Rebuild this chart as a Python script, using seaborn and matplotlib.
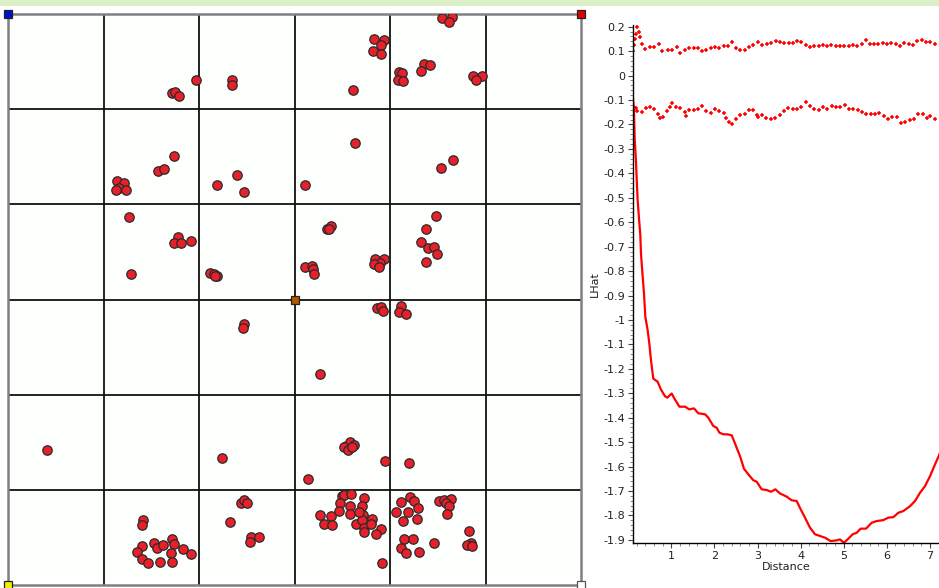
import numpy as np
import pandas as pd
import matplotlib
matplotlib.use("Agg")
import matplotlib.pyplot as plt
import matplotlib.ticker as mticker
from matplotlib.patches import Rectangle
import seaborn as sns

# ---------------- data: point map (grid units, 6 x 6 cells) ----------------
pts_x = [4.548, 4.647, 4.623,
         3.833, 3.936, 3.904, 3.825, 3.904,
         4.090, 4.125, 4.082, 4.137,
         4.358, 4.414, 4.323,
         4.868, 4.959, 4.903,
         3.612, 2.349, 2.349, 1.966, 1.717, 1.749, 1.792,
         3.636, 4.659, 4.536, 1.733, 1.567, 1.634,
         1.137, 1.212, 1.165, 1.236, 1.129,
         2.191, 2.400, 2.467, 3.115,
         1.267, 1.780, 1.737, 1.812, 1.915, 1.287,
         2.116, 2.159, 2.187, 2.167,
         3.336, 3.387, 3.364,
         3.111, 3.186, 3.190, 3.202,
         3.845, 3.936, 3.900, 3.829, 3.889,
         4.477, 4.378, 4.323, 4.402, 4.457, 4.489, 4.378,
         2.467, 2.460, 3.861, 3.904, 3.924, 4.114, 4.090, 4.169, 3.265,
         0.411, 2.246, 3.146,
         3.541, 3.581, 3.624, 3.522, 3.561, 3.600,
         3.944, 4.201,
         1.409, 1.398, 1.402, 1.346, 1.398, 1.469, 1.524, 1.559, 1.622,
         1.713, 1.733, 1.702, 1.591, 1.713, 1.832, 1.915,
         2.436, 2.475, 2.499, 2.325, 2.546, 2.535, 2.633,
         3.494, 3.514, 3.589, 3.723, 3.478, 3.581, 3.711, 3.466, 3.577, 3.715,
         3.269, 3.380, 3.312, 3.391, 3.644, 3.707, 3.731, 3.723, 3.810, 3.798,
         3.905, 3.853, 3.913, 3.679,
         4.212, 4.114, 4.256, 4.291, 4.066, 4.188, 4.133, 4.287, 4.145, 4.236,
         4.114, 4.165, 4.299, 4.457,
         4.508, 4.568, 4.635, 4.587, 4.623, 4.599,
         4.824, 4.844, 4.805, 4.860]
pts_y = [5.962, 5.965, 5.913,
         5.738, 5.727, 5.671, 5.615, 5.580,
         5.395, 5.385, 5.308, 5.294,
         5.476, 5.462, 5.406,
         5.350, 5.350, 5.304,
         5.203, 5.308, 5.259, 5.304, 5.171, 5.185, 5.143,
         4.647, 4.469, 4.381, 4.503, 4.346, 4.367,
         4.248, 4.220, 4.171, 4.147, 4.147,
         4.206, 4.304, 4.126, 4.206,
         3.868, 3.652, 3.589, 3.589, 3.617, 3.268,
         3.282, 3.272, 3.247, 3.247,
         3.746, 3.777, 3.742,
         3.338, 3.355, 3.324, 3.268,
         3.429, 3.429, 3.387, 3.373, 3.345,
         3.878, 3.746, 3.603, 3.537, 3.551, 3.477, 3.390,
         2.739, 2.704, 2.906, 2.920, 2.878, 2.927, 2.871, 2.850, 2.216,
         1.420, 1.332, 1.112,
         1.465, 1.500, 1.472, 1.451, 1.423, 1.451,
         1.301, 1.280,
         0.678, 0.633, 0.413, 0.346, 0.269, 0.234, 0.441, 0.388, 0.416,
         0.483, 0.427, 0.339, 0.245, 0.245, 0.378, 0.325,
         0.864, 0.888, 0.864, 0.664, 0.503, 0.455, 0.503,
         0.934, 0.948, 0.958, 0.913, 0.865, 0.827, 0.829, 0.780, 0.741, 0.731,
         0.734, 0.724, 0.640, 0.633, 0.636, 0.678, 0.601, 0.556, 0.696, 0.643,
         0.591, 0.535, 0.234, 0.769,
         0.927, 0.871, 0.885, 0.811, 0.769, 0.766, 0.668, 0.692, 0.483, 0.479,
         0.392, 0.332, 0.346, 0.437,
         0.878, 0.888, 0.899, 0.857, 0.829, 0.741,
         0.570, 0.444, 0.423, 0.409]

# extent corner markers and centre marker
corner_x = [0, 6, 0, 6, 3]
corner_y = [6, 6, 0, 0, 3]
corner_colors = ["#0010d0", "#e00000", "#f0f000", "#ffffff", "#b05a00"]

# ---------------- data: L-hat function ----------------
dist_obs = [0.103, 0.134, 0.149, 0.180, 0.203, 0.219, 0.25, 0.281, 0.296, 0.327,
            0.366, 0.397, 0.451, 0.49, 0.528, 0.582, 0.683, 0.76, 0.853, 0.907,
            1.008, 1.085, 1.108, 1.186, 1.317, 1.418, 1.526, 1.626, 1.781, 1.858,
            1.974, 2.052, 2.114, 2.206, 2.299, 2.400, 2.454, 2.516, 2.593, 2.686,
            2.787, 2.903, 2.980, 3.096, 3.212, 3.312, 3.413, 3.521, 3.676, 3.792,
            3.908, 4.001, 4.101, 4.217, 4.333, 4.449, 4.565, 4.697, 4.836, 4.913,
            5.006, 5.107, 5.207, 5.300, 5.393, 5.517, 5.648, 5.764, 5.919, 6.035,
            6.151, 6.267, 6.383, 6.538, 6.654, 6.770, 6.886, 7.002, 7.118, 7.203, 7.26]
lhat_obs = [-0.076, -0.145, -0.255, -0.352, -0.448, -0.51, -0.585, -0.653, -0.728, -0.803,
            -0.892, -0.987, -1.042, -1.097, -1.165, -1.24, -1.253, -1.285, -1.312, -1.318,
            -1.301, -1.326, -1.332, -1.355, -1.355, -1.366, -1.362, -1.382, -1.386, -1.400,
            -1.434, -1.441, -1.461, -1.468, -1.468, -1.472, -1.495, -1.523, -1.557, -1.609,
            -1.632, -1.656, -1.662, -1.693, -1.696, -1.703, -1.693, -1.710, -1.723, -1.738,
            -1.741, -1.775, -1.809, -1.850, -1.877, -1.884, -1.891, -1.905, -1.902, -1.898,
            -1.912, -1.895, -1.877, -1.871, -1.854, -1.854, -1.830, -1.823, -1.819, -1.809,
            -1.807, -1.789, -1.782, -1.762, -1.741, -1.707, -1.680, -1.639, -1.591, -1.557, -1.53]

dist_hi = [0.118, 0.134, 0.157, 0.188, 0.211, 0.250, 0.273, 0.312, 0.397, 0.513,
           0.606, 0.714, 0.783, 0.915, 1.015, 1.124, 1.201, 1.325, 1.418, 1.518,
           1.611, 1.712, 1.812, 1.913, 2.005, 2.114, 2.214, 2.315, 2.415, 2.493,
           2.601, 2.701, 2.802, 2.903, 3.011, 3.111, 3.212, 3.320, 3.421, 3.521,
           3.622, 3.722, 3.823, 3.923, 4.016, 4.117, 4.217, 4.318, 4.418, 4.511,
           4.612, 4.712, 4.813, 4.913, 5.014, 5.114, 5.215, 5.316, 5.416, 5.509,
           5.609, 5.702, 5.803, 5.903, 6.004, 6.104, 6.205, 6.305, 6.406, 6.507,
           6.607, 6.708, 6.808, 6.909, 7.009, 7.110]
lhat_hi = [0.101, 0.124, 0.148, 0.172, 0.200, 0.177, 0.156, 0.131, 0.109, 0.119,
           0.116, 0.128, 0.101, 0.106, 0.106, 0.116, 0.092, 0.103, 0.112, 0.112,
           0.112, 0.099, 0.106, 0.112, 0.119, 0.112, 0.120, 0.120, 0.137, 0.114,
           0.106, 0.106, 0.117, 0.127, 0.137, 0.127, 0.130, 0.132, 0.141, 0.137,
           0.135, 0.135, 0.132, 0.141, 0.137, 0.126, 0.116, 0.120, 0.120, 0.126,
           0.120, 0.126, 0.120, 0.121, 0.123, 0.123, 0.127, 0.120, 0.128, 0.145,
           0.131, 0.131, 0.128, 0.135, 0.128, 0.135, 0.131, 0.123, 0.132, 0.130,
           0.124, 0.141, 0.145, 0.138, 0.139, 0.131]

dist_lo = [0.134, 0.172, 0.211, 0.312, 0.404, 0.505, 0.606, 0.683, 0.745, 0.807,
           0.899, 0.977, 1.008, 1.108, 1.209, 1.317, 1.333, 1.418, 1.518, 1.619,
           1.719, 1.812, 1.913, 2.013, 2.114, 2.214, 2.276, 2.346, 2.415, 2.500,
           2.601, 2.701, 2.802, 2.903, 2.980, 3.003, 3.104, 3.204, 3.305, 3.405,
           3.514, 3.614, 3.715, 3.815, 3.916, 4.016, 4.117, 4.217, 4.318, 4.418,
           4.519, 4.619, 4.720, 4.821, 4.921, 5.022, 5.122, 5.223, 5.323, 5.424,
           5.524, 5.625, 5.725, 5.826, 5.926, 6.027, 6.128, 6.228, 6.329, 6.429,
           6.530, 6.630, 6.731, 6.831, 6.932, 7.009, 7.110]
lhat_lo = [-0.128, -0.134, -0.145, -0.149, -0.131, -0.128, -0.138, -0.159, -0.172, -0.168,
           -0.145, -0.128, -0.113, -0.128, -0.131, -0.149, -0.164, -0.142, -0.141, -0.135,
           -0.123, -0.145, -0.152, -0.135, -0.145, -0.152, -0.175, -0.189, -0.197, -0.179,
           -0.163, -0.156, -0.142, -0.142, -0.161, -0.170, -0.160, -0.172, -0.177, -0.175,
           -0.161, -0.145, -0.131, -0.138, -0.138, -0.128, -0.110, -0.123, -0.135, -0.139,
           -0.127, -0.138, -0.123, -0.127, -0.128, -0.121, -0.135, -0.138, -0.142, -0.150,
           -0.156, -0.159, -0.159, -0.153, -0.166, -0.179, -0.168, -0.168, -0.192, -0.188,
           -0.183, -0.177, -0.159, -0.159, -0.172, -0.164, -0.179]

# ---------------- style ----------------
sns.set_theme(style="white")
plt.rcParams["font.family"] = ["DejaVu Sans"]
plt.rcParams["axes.unicode_minus"] = False

fig = plt.figure(figsize=(9.39, 5.88), dpi=100)
fig.patch.set_facecolor("white")
W, H = 939.0, 588.0

# light green band at top
fig.add_artist(Rectangle((0, 1 - 6 / H), 1, 6 / H, transform=fig.transFigure,
                         facecolor="#dcf0c8", edgecolor="none", zorder=0))

# ---------------- left: point map ----------------
axm = fig.add_axes([8 / W, 3 / H, 573 / W, 571 / H])
axm.set_facecolor("#fdfffd")
axm.set_xlim(0, 6)
axm.set_ylim(0, 6)
for v in range(1, 6):
    axm.axvline(v, color="#111111", lw=1.3, zorder=1)
    axm.axhline(v, color="#111111", lw=1.3, zorder=1)
for s in axm.spines.values():
    s.set_color("#808080")
    s.set_linewidth(1.8)
axm.set_xticks([])
axm.set_yticks([])

df_pts = pd.DataFrame({"x": pts_x, "y": pts_y})
sns.scatterplot(data=df_pts, x="x", y="y", ax=axm, s=46, color="#e8202a",
                edgecolor="#2a2a2a", linewidth=0.9, zorder=3, legend=False)
axm.set_xlabel("")
axm.set_ylabel("")
for cx, cy, cc in zip(corner_x, corner_y, corner_colors):
    axm.plot(cx, cy, marker="s", markersize=5.8, markerfacecolor=cc,
             markeredgecolor="#555555" if cc == "#ffffff" else "#222222",
             markeredgewidth=0.9, clip_on=False, zorder=5)

# ---------------- right: L-hat chart ----------------
axl = fig.add_axes([633 / W, (H - 543.3) / H, (W - 633) / W, (543.3 - 25) / H])
axl.set_facecolor("white")
df_obs = pd.DataFrame({"Distance": dist_obs, "LHat": lhat_obs})
df_hi = pd.DataFrame({"Distance": dist_hi, "LHat": lhat_hi})
df_lo = pd.DataFrame({"Distance": dist_lo, "LHat": lhat_lo})
sns.lineplot(data=df_obs, x="Distance", y="LHat", ax=axl, color="#ff0000",
             lw=1.6, estimator=None, sort=False)
for d in (df_hi, df_lo):
    sns.scatterplot(data=d, x="Distance", y="LHat", ax=axl, marker="+",
                    s=12, color="#ff0000", linewidth=1.1, legend=False)
axl.set_xlim(0.111, 7.21)
axl.set_ylim(-1.914, 0.207)
axl.spines["top"].set_visible(False)
axl.spines["right"].set_visible(False)
axl.spines["left"].set_color("black")
axl.spines["bottom"].set_color("black")
axl.spines["left"].set_linewidth(1.0)
axl.spines["bottom"].set_linewidth(1.0)
axl.xaxis.set_major_locator(mticker.MultipleLocator(1))
axl.xaxis.set_minor_locator(mticker.MultipleLocator(0.2))
axl.yaxis.set_major_locator(mticker.MultipleLocator(0.1))
axl.yaxis.set_minor_locator(mticker.MultipleLocator(0.02))


def fmt(v, _):
    v = round(v, 1)
    if abs(v) < 1e-9:
        return "0"
    return f"{v:g}"


axl.yaxis.set_major_formatter(mticker.FuncFormatter(fmt))
axl.xaxis.set_major_formatter(mticker.FuncFormatter(lambda v, _: f"{v:g}"))
axl.tick_params(axis="both", which="major", direction="out", length=3.5, width=0.8,
                color="#444444", labelsize=8, labelcolor="#222222", pad=2,
                left=True, bottom=True)
axl.tick_params(axis="both", which="minor", direction="out", length=2, width=0.6,
                color="#777777", left=True, bottom=True)
axl.set_xlabel("Distance", fontsize=8, color="#222222", labelpad=1)
axl.set_ylabel("LHat", fontsize=8, color="#222222", labelpad=3)

fig.savefig("out.png", dpi=100)
